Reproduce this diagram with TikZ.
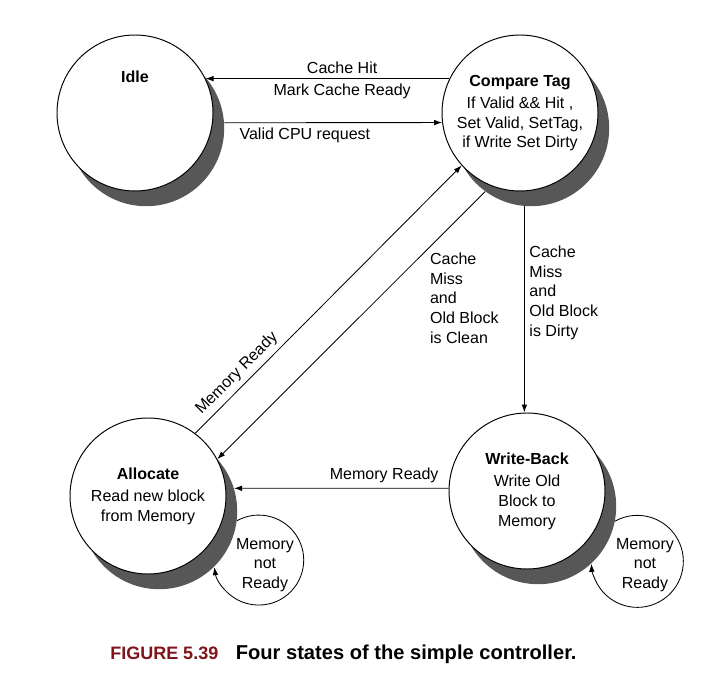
\documentclass[tikz,border=0pt]{standalone}
\usepackage{fontspec}
\setmainfont{Liberation Sans}
\usepackage{xcolor}
\usepackage{tikz}
\usetikzlibrary{arrows.meta,positioning,backgrounds}
\definecolor{shadowgray}{rgb}{0.34,0.34,0.34}
\definecolor{figred}{rgb}{0.50,0.08,0.10}

\begin{document}
\begin{tikzpicture}[font=\fontsize{11.4}{14}\selectfont,
   st/.style={draw,circle,line width=0.7pt,fill=white,minimum size=3.9cm,
              inner sep=0pt,align=center},
   sh/.style={circle,fill=shadowgray,minimum size=3.9cm,inner sep=0pt},
   a/.style={-{Latex[length=2mm,width=1.4mm]},line width=0.6pt},
   lp/.style={align=center}]
  \useasboundingbox (0,0) rectangle (17.825,17.075);
  \node[st] (idle) at (3.375,14.25) {};
  \node[font=\fontsize{11.4}{14}\selectfont\bfseries,below=0.78cm of idle.north] (idlet) {Idle};
  \node[st] (cmp) at (13.0,14.25)
       {\textbf{Compare Tag}\\[2pt]If Valid \&\& Hit ,\\Set Valid, SetTag,\\if Write Set Dirty};
  \node[st] (alloc) at (3.7,4.675) {\textbf{Allocate}\\[2pt]Read new block\\from Memory};
  \node[st] (wb) at (13.175,4.8) {\textbf{Write-Back}\\[2pt]Write Old\\Block to\\Memory};
  \begin{scope}[on background layer]
    \foreach \n in {idle,cmp,alloc,wb}
       \node[sh] (\n S) at ([shift={(0.28,-0.38)}]\n) {};
  \end{scope}
  \draw[a] (cmp.154) -- (idle.26)
     node[pos=0.44,above] {Cache Hit}
     node[pos=0.44,below] {Mark Cache Ready};
  \draw[a] (idleS.4) -- (cmp.187) node[pos=0.37,below] {Valid CPU request};
  \draw[a] (cmpS.265) -- (cmpS.265 |- wb.north)
     node[pos=0.42,right,align=left] {Cache\\Miss\\and\\Old Block\\is Dirty};
  \draw[a] (cmpS.234) -- (alloc.28)
     node[pos=0.21,anchor=north west,xshift=-1mm,align=left] {Cache\\Miss\\and\\Old Block\\is Clean};
  \draw[a] (alloc.53) -- (cmp.222) node[pos=0.19,sloped,above] {Memory Ready};
  \draw[a] (wb.178) -- (allocS.17) node[pos=0.3,above] {Memory Ready};
  \draw[a] (allocS.-7) arc[start angle=119,end angle=-171,radius=1.125cm];
  \draw[a] (wbS.-11) arc[start angle=119,end angle=-177,radius=1.15cm];
  \node[lp] (allocl) at (6.625,2.95) {Memory\\not\\Ready};
  \node[lp] (wbl) at (16.125,2.95) {Memory\\not\\Ready};
  \node[inner sep=0pt,text=figred,font=\fontsize{12.8}{15}\selectfont\bfseries,
        anchor=base west] (fig) at (2.75,0.6) {FIGURE 5.39};
  \node[inner sep=0pt,font=\fontsize{14.3}{17}\selectfont\bfseries,
        base right=4.25mm of fig] (cap) {Four states of the simple controller.};
\end{tikzpicture}
\end{document}
